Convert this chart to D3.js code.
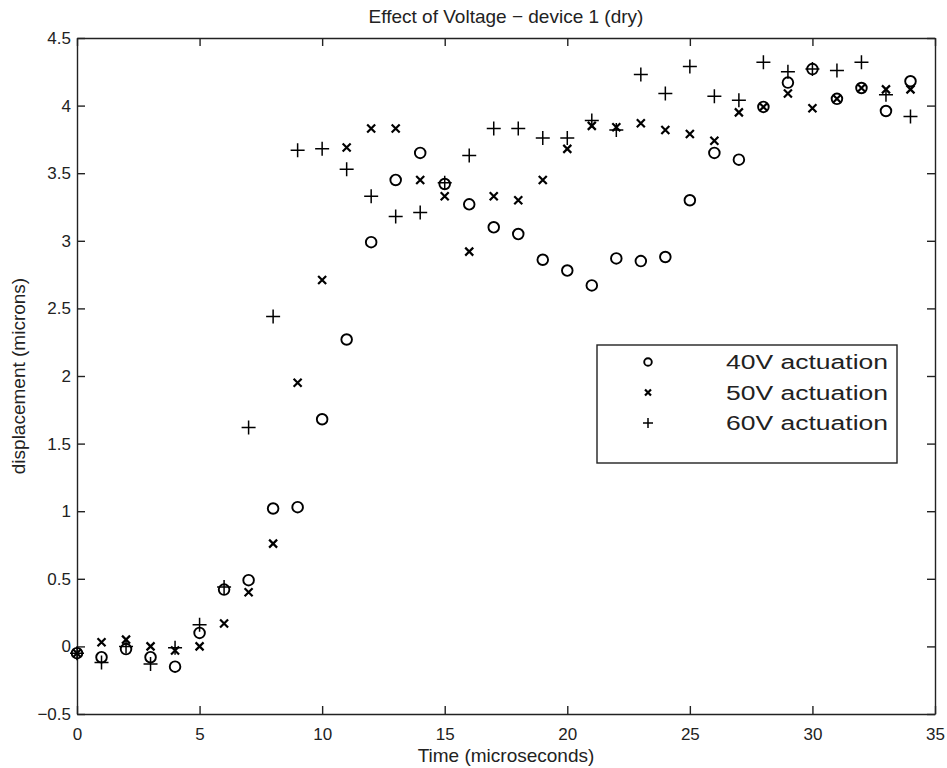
<!DOCTYPE html>
<html>
<head>
<meta charset="utf-8">
<script src="https://cdn.jsdelivr.net/npm/d3@7"></script>
<style>
body{margin:0;background:#fff;}
text{font-family:"Liberation Sans",Arial,sans-serif;fill:#222;}
</style>
</head>
<body>
<script>
// Data (time in microseconds, displacement in microns)
var times = [0,1,2,3,4,5,6,7,8,9,10,11,12,13,14,15,16,17,18,19,20,21,22,23,24,25,26,27,28,29,30,31,32,33,34];

var v40 = [-0.05,-0.08,-0.02,-0.08,-0.15,0.10,0.42,0.49,1.02,1.03,1.68,2.27,2.99,3.45,3.65,3.42,3.27,3.10,3.05,2.86,2.78,2.67,2.87,2.85,2.88,3.30,3.65,3.60,3.99,4.17,4.27,4.05,4.13,3.96,4.18];
var v50 = [-0.05,0.03,0.05,0.00,-0.03,0.00,0.17,0.40,0.76,1.95,2.71,3.69,3.83,3.83,3.45,3.33,2.92,3.33,3.30,3.45,3.68,3.85,3.84,3.87,3.82,3.79,3.74,3.95,3.99,4.09,3.98,4.05,4.13,4.12,4.12];
var v60 = [-0.05,-0.12,0.00,-0.13,-0.01,0.16,0.44,1.62,2.44,3.67,3.68,3.53,3.33,3.18,3.21,3.43,3.63,3.83,3.83,3.76,3.76,3.89,3.82,4.23,4.09,4.29,4.07,4.04,4.32,4.25,4.27,4.26,4.32,4.08,3.92];

var legendLabels = ['40V actuation','50V actuation','60V actuation'];
var xTicks = [0,5,10,15,20,25,30,35];
var yTicks = [-0.5,0,0.5,1,1.5,2,2.5,3,3.5,4,4.5];

var svgWidth = 947;
var svgHeight = 768;
var margin = {top: 38, right: 12, bottom: 54, left: 77};
var w = svgWidth - margin.left - margin.right;
var h = svgHeight - margin.top - margin.bottom;

var svg = d3.select('body')
            .append('svg')
            .attr('width',svgWidth)
            .attr('height',svgHeight);

var xScale = d3.scaleLinear().domain([0,35]).range([margin.left, margin.left + w]);
var yScale = d3.scaleLinear().domain([-0.5,4.5]).range([margin.top + h, margin.top]);

var fmt = d3.format('~g');

//axes, matlab style box with inward ticks
var bottomAxis = d3.axisBottom(xScale).tickValues(xTicks).tickSizeInner(-8).tickSizeOuter(0).tickPadding(14).tickFormat(fmt);
var topAxis = d3.axisTop(xScale).tickValues(xTicks).tickSizeInner(-8).tickSizeOuter(0).tickFormat('');
var leftAxis = d3.axisLeft(yScale).tickValues(yTicks).tickSizeInner(-8).tickSizeOuter(0).tickPadding(6).tickFormat(fmt);
var rightAxis = d3.axisRight(yScale).tickValues(yTicks).tickSizeInner(-8).tickSizeOuter(0).tickFormat('');

svg.append('g').attr('class','axis').attr('transform','translate(0,'+(margin.top+h)+')').call(bottomAxis);
svg.append('g').attr('class','axis').attr('transform','translate(0,'+margin.top+')').call(topAxis);
svg.append('g').attr('class','axis').attr('transform','translate('+margin.left+',0)').call(leftAxis);
svg.append('g').attr('class','axis').attr('transform','translate('+(margin.left+w)+',0)').call(rightAxis);

svg.selectAll('.axis path').attr('stroke','#222').attr('stroke-width',1.4);
svg.selectAll('.axis line').attr('stroke','#222').attr('stroke-width',1.4);
svg.selectAll('.axis text').attr('font-size','17px').attr('fill','#333').attr('font-family','"Liberation Sans",Arial,sans-serif');

//markers
function circleMark(g, r){
    g.append('circle').attr('r',r).attr('fill','none').attr('stroke','#000').attr('stroke-width',1.9);
}
function crossMark(g, s){
    g.append('path').attr('d','M'+(-s)+','+(-s)+'L'+s+','+s+'M'+(-s)+','+s+'L'+s+','+(-s))
     .attr('stroke','#000').attr('stroke-width',2.2).attr('fill','none');
}
function plusMark(g, s){
    g.append('path').attr('d','M'+(-s)+',0L'+s+',0M0,'+(-s)+'L0,'+s)
     .attr('stroke','#000').attr('stroke-width',1.5).attr('fill','none');
}

var series = [
    {values: v40, mark: function(g){ circleMark(g,5.3); }},
    {values: v50, mark: function(g){ crossMark(g,4); }},
    {values: v60, mark: function(g){ plusMark(g,7); }}
];

series.forEach(function(s){
    var pts = svg.append('g')
                 .selectAll('g')
                 .data(times)
                 .enter()
                 .append('g')
                 .attr('transform',function(t,i){ return 'translate('+xScale(t)+','+yScale(s.values[i])+')'; });
    pts.each(function(){ s.mark(d3.select(this)); });
});

//title and axis labels
svg.append('text')
   .attr('x',(margin.left + margin.left + w)/2)
   .attr('y',23)
   .attr('text-anchor','middle')
   .attr('font-size','19px')
   .text('Effect of Voltage \u2212 device 1 (dry)');

svg.append('text')
   .attr('x',(margin.left + margin.left + w)/2)
   .attr('y',762)
   .attr('text-anchor','middle')
   .attr('font-size','19px')
   .text('Time (microseconds)');

svg.append('text')
   .attr('transform','translate(25,'+(margin.top + h/2)+') rotate(-90)')
   .attr('text-anchor','middle')
   .attr('font-size','19px')
   .text('displacement (microns)');

//legend
var legend = svg.append('g').attr('transform','translate(597,345)');
legend.append('rect')
      .attr('width',300)
      .attr('height',118)
      .attr('fill','#fff')
      .attr('stroke','#222')
      .attr('stroke-width',1.4);

var legendMarks = [
    function(g){ circleMark(g,3.8); },
    function(g){ crossMark(g,3); },
    function(g){ plusMark(g,5); }
];

legendLabels.forEach(function(lab,i){
    var row = legend.append('g').attr('transform','translate(0,'+(17 + i*30.5)+')');
    var m = row.append('g').attr('transform','translate(51,0)');
    legendMarks[i](m);
    row.append('text')
       .attr('x',129)
       .attr('y',7)
       .attr('font-size','20px')
       .attr('textLength',162)
       .attr('lengthAdjust','spacingAndGlyphs')
       .text(lab);
});
</script>
</body>
</html>
